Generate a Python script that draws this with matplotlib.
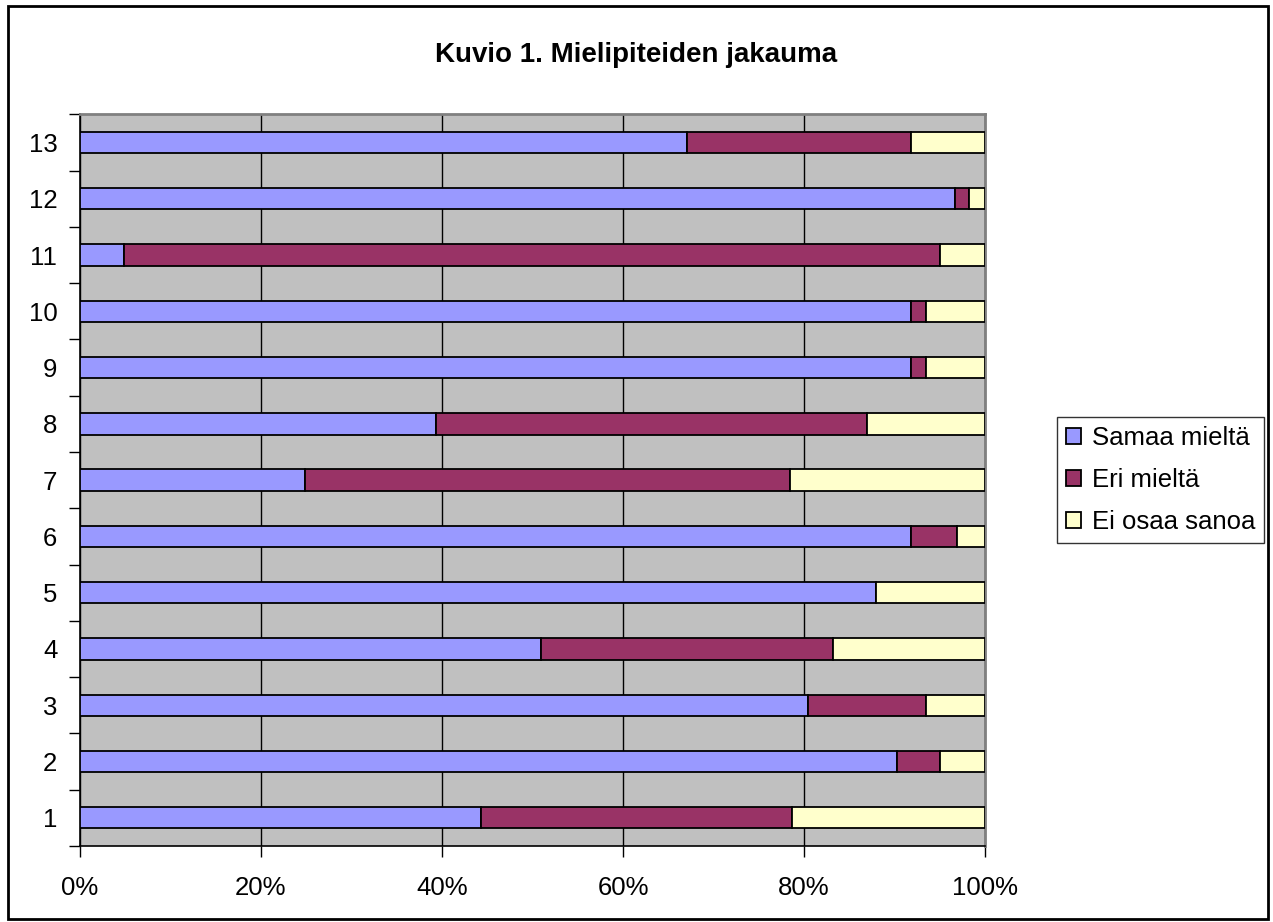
import matplotlib
matplotlib.use("Agg")
import matplotlib.pyplot as plt
from matplotlib.patches import Rectangle
from matplotlib.ticker import FixedLocator, PercentFormatter

categories = ["1", "2", "3", "4", "5", "6", "7", "8", "9", "10", "11", "12", "13"]
samaa = [44.3, 90.3, 80.4, 50.9, 87.9, 91.8, 24.9, 39.4, 91.8, 91.8, 4.9, 96.6, 67.1]
eri = [34.4, 4.7, 13.1, 32.3, 0.0, 5.1, 53.5, 47.5, 1.6, 1.6, 90.1, 1.6, 24.7]
eos = [100 - a - b for a, b in zip(samaa, eri)]

labels = ["Samaa mieltä", "Eri mieltä", "Ei osaa sanoa"]
colors = ["#9999FF", "#993366", "#FFFFCC"]

plt.rcParams["font.family"] = ["Liberation Sans", "DejaVu Sans"]

fig = plt.figure(figsize=(12.73, 9.22), dpi=100)
ax = fig.add_axes([0.0625, 0.0825, 0.7115, 0.7935])
ax.set_facecolor("#C0C0C0")

y = list(range(1, len(categories) + 1))
left = [0] * len(y)
for vals, lab, col in zip([samaa, eri, eos], labels, colors):
    ax.barh(y, vals, left=left, height=0.38, color=col, edgecolor="black",
            linewidth=1.3, label=lab, zorder=3)
    left = [l + v for l, v in zip(left, vals)]

ax.set_xlim(0, 100)
ax.set_ylim(0.5, len(y) + 0.5)
ax.set_xticks([0, 20, 40, 60, 80, 100])
ax.xaxis.set_major_formatter(PercentFormatter(decimals=0))
ax.grid(axis="x", color="black", linewidth=1.0, zorder=1)

ax.yaxis.set_major_locator(FixedLocator([i + 0.5 for i in range(0, len(y) + 1)]))
ax.yaxis.set_major_formatter(plt.NullFormatter())
ax.yaxis.set_minor_locator(FixedLocator(y))
ax.set_yticklabels(categories, minor=True)
ax.tick_params(axis="y", which="minor", length=0, pad=16, labelsize=18.5)
ax.tick_params(axis="y", which="major", length=8, width=1.0, direction="out")
ax.tick_params(axis="x", length=8, width=1.0, direction="out", pad=14, labelsize=18.5)

for side in ["top", "right"]:
    ax.spines[side].set_color("#808080")
    ax.spines[side].set_linewidth(2)
for side in ["left", "bottom"]:
    ax.spines[side].set_color("black")
    ax.spines[side].set_linewidth(1.2)

fig.text(0.5, 0.94, "Kuvio 1. Mielipiteiden jakauma", ha="center", va="center",
         fontsize=20, fontweight="bold")

leg = fig.legend(loc="upper left", bbox_to_anchor=(1057 / 1273, 1 - 417 / 922), fontsize=18.5,
                 frameon=True, fancybox=False, edgecolor="black",
                 handlelength=0.6, handleheight=0.6, handletextpad=0.4,
                 labelspacing=0.7, borderpad=0.35, borderaxespad=0)
leg.get_frame().set_linewidth(1.0)

fig.patches.append(Rectangle((0.006, 0.003), 0.99, 0.99, transform=fig.transFigure,
                             fill=False, edgecolor="black", linewidth=2))

fig.savefig("out.png", dpi=100)
